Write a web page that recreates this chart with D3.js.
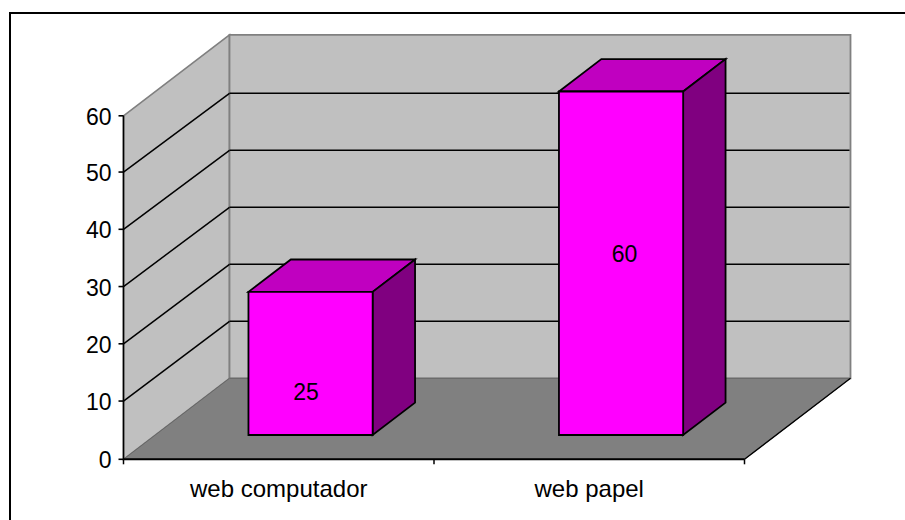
<!DOCTYPE html>
<html>
<head>
<meta charset="utf-8">
<script src="https://cdn.jsdelivr.net/npm/d3@7"></script>
<style>
html, body { margin: 0; background: #fff; }
text { font-family: "Liberation Sans", Arial, sans-serif; font-size: 23px; fill: #000; }
text.cat { font-size: 24px; }
</style>
</head>
<body>
<div id="chart"></div>
<script>
const categories = ['web computador', 'web papel'];
const values = [25, 60];
const yTicks = [0, 10, 20, 30, 40, 50, 60];

const width = 905, height = 520;
const svg = d3.select('#chart').append('svg').attr('width', width).attr('height', height).style('display', 'block');

// front edge of the floor and the height axis
const x = d3.scaleBand().domain(categories).range([123.5, 744.5]).paddingInner(0).paddingOuter(0);
const y = d3.scaleLinear().domain([0, 60]).range([459.3, 115.8]);
// how far back into the box a point sits, 0 = front, 1 = back wall
const depthX = d3.scaleLinear().domain([0, 1]).range([0, 106]);
const depthY = d3.scaleLinear().domain([0, 1]).range([0, -81]);

function pt(px, v, d) {
    return [px + depthX(d), y(v) + depthY(d)];
}
function poly(points, fill, stroke, sw) {
    svg.append('polygon')
        .attr('points', points.map(p => p.join(',')).join(' '))
        .attr('fill', fill)
        .attr('stroke', stroke)
        .attr('stroke-width', sw)
        .attr('stroke-linejoin', 'miter');
}
function line(a, b, stroke, sw) {
    svg.append('line')
        .attr('x1', a[0]).attr('y1', a[1])
        .attr('x2', b[0]).attr('y2', b[1])
        .attr('stroke', stroke).attr('stroke-width', sw);
}

// frame only shows on the top and left
line([10, 13], [width, 13], '#000', 2);
line([10, 12], [10, height], '#000', 2);

const left = x.range()[0], right = x.range()[1];
const yMax = d3.max(yTicks);

// side wall, back wall, floor
poly([pt(left, 0, 0), pt(left, yMax, 0), pt(left, yMax, 1), pt(left, 0, 1)], '#c0c0c0', '#808080', 1.6);
poly([pt(left, 0, 1), pt(left, yMax, 1), pt(right, yMax, 1), pt(right, 0, 1)], '#c0c0c0', '#808080', 1.8);
poly([pt(left, 0, 0), pt(left, 0, 1), pt(right, 0, 1), pt(right, 0, 0)], '#808080', '#666', 1);

// inner ticks sit a pixel above the true value on the axis edge
const tickY = t => (t > 0 && t < yMax) ? y(t) - 1 : y(t);
const backY = t => y(t) + depthY(1) + t * 0.025;

// gridlines run along the side wall and the back wall
yTicks.filter(t => t > 0 && t < yMax).forEach(t => {
    line([left, tickY(t)], [left + depthX(1), backY(t)], '#000', 1.5);
    line([left + depthX(1), backY(t)], [right + depthX(1) - 1, backY(t)], '#000', 1.5);
});

// axes drawn over the box edges
line(pt(left, 0, 0), pt(left, yMax, 0), '#000', 1.6);
line(pt(left, 0, 0), pt(right, 0, 0), '#000', 2);
line(pt(right, 0, 0), pt(right, 0, 1), '#000', 1.3);

yTicks.forEach(t => {
    line([left - 5, tickY(t)], [left, tickY(t)], '#000', 1.6);
    svg.append('text').attr('x', left - 12).attr('y', tickY(t) + 9).attr('text-anchor', 'end').text(t);
});
const catTicks = [left, ...categories.map(c => x(c) + x.bandwidth())];
catTicks.forEach(tx => line([tx, y(0)], [tx, y(0) + 5], '#000', 1.5));
categories.forEach(c => {
    svg.append('text').attr('class', 'cat').attr('x', x(c) + x.bandwidth() / 2).attr('y', 496.5)
        .attr('text-anchor', 'middle').text(c);
});

// bars, each one a box standing in the middle of the floor depth
const barShare = 0.4, d0 = 0.3, d1 = 0.7;
const labelShift = [-4.5, 3.5];
categories.forEach((c, i) => {
    const v = values[i];
    const bw = x.bandwidth() * barShare;
    const x0 = x(c) + (x.bandwidth() - bw) / 2, x1 = x0 + bw;
    poly([pt(x0, v, d0), pt(x0, v, d1), pt(x1, v, d1), pt(x1, v, d0)], '#c000c0', '#000', 1.8);
    poly([pt(x1, 0, d0), pt(x1, v, d0), pt(x1, v, d1), pt(x1, 0, d1)], '#800080', '#000', 1.8);
    poly([pt(x0, 0, d0), pt(x0, v, d0), pt(x1, v, d0), pt(x1, 0, d0)], '#ff00ff', '#000', 1.8);
    // value label sits a little lower than the face centre
    const ly = y(0.69 * v - 9.7) + depthY(d0);
    svg.append('text').attr('x', (x0 + x1) / 2 + depthX(d0) + labelShift[i]).attr('y', ly + 8.5)
        .attr('text-anchor', 'middle').text(v);
});
</script>
</body>
</html>
